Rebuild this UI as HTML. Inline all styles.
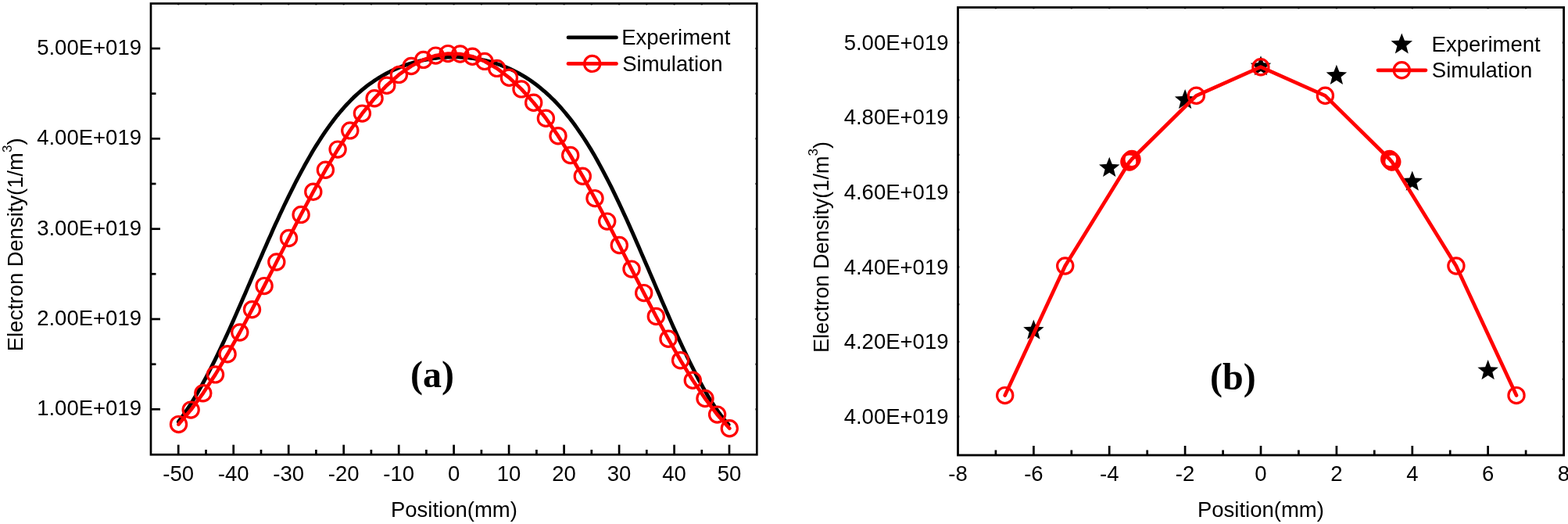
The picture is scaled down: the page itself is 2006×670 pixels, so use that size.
<!DOCTYPE html>
<html><head><meta charset="utf-8"><title>Electron Density</title>
<style>html,body{margin:0;padding:0;background:#fff;overflow:hidden}svg{display:block}</style>
</head><body>
<svg width="2006" height="670" viewBox="0 0 2006 670">
<rect width="2006" height="670" fill="#fff"/>
<g fill="none" stroke="#000" stroke-width="2.7">
<rect x="193.0" y="4.5" width="775.3" height="576.8"/>
<line x1="193.0" y1="62.0" x2="205.0" y2="62.0"/>
<line x1="193.0" y1="177.3" x2="205.0" y2="177.3"/>
<line x1="193.0" y1="292.7" x2="205.0" y2="292.7"/>
<line x1="193.0" y1="408.0" x2="205.0" y2="408.0"/>
<line x1="193.0" y1="523.3" x2="205.0" y2="523.3"/>
<line x1="193.0" y1="119.7" x2="199.5" y2="119.7"/>
<line x1="193.0" y1="235.0" x2="199.5" y2="235.0"/>
<line x1="193.0" y1="350.3" x2="199.5" y2="350.3"/>
<line x1="193.0" y1="465.7" x2="199.5" y2="465.7"/>
<line x1="228.2" y1="581.3" x2="228.2" y2="568.6999999999999"/>
<line x1="298.7" y1="581.3" x2="298.7" y2="568.6999999999999"/>
<line x1="369.2" y1="581.3" x2="369.2" y2="568.6999999999999"/>
<line x1="439.7" y1="581.3" x2="439.7" y2="568.6999999999999"/>
<line x1="510.2" y1="581.3" x2="510.2" y2="568.6999999999999"/>
<line x1="580.6" y1="581.3" x2="580.6" y2="568.6999999999999"/>
<line x1="651.1" y1="581.3" x2="651.1" y2="568.6999999999999"/>
<line x1="721.6" y1="581.3" x2="721.6" y2="568.6999999999999"/>
<line x1="792.1" y1="581.3" x2="792.1" y2="568.6999999999999"/>
<line x1="862.6" y1="581.3" x2="862.6" y2="568.6999999999999"/>
<line x1="933.0" y1="581.3" x2="933.0" y2="568.6999999999999"/>
<line x1="263.5" y1="581.3" x2="263.5" y2="575.0"/>
<line x1="334.0" y1="581.3" x2="334.0" y2="575.0"/>
<line x1="404.4" y1="581.3" x2="404.4" y2="575.0"/>
<line x1="474.9" y1="581.3" x2="474.9" y2="575.0"/>
<line x1="545.4" y1="581.3" x2="545.4" y2="575.0"/>
<line x1="615.9" y1="581.3" x2="615.9" y2="575.0"/>
<line x1="686.4" y1="581.3" x2="686.4" y2="575.0"/>
<line x1="756.8" y1="581.3" x2="756.8" y2="575.0"/>
<line x1="827.3" y1="581.3" x2="827.3" y2="575.0"/>
<line x1="897.8" y1="581.3" x2="897.8" y2="575.0"/>
<line x1="228.2" y1="4.5" x2="228.2" y2="6.3" stroke-width="2.2"/>
<line x1="263.5" y1="4.5" x2="263.5" y2="6.3" stroke-width="2.2"/>
<line x1="298.7" y1="4.5" x2="298.7" y2="6.3" stroke-width="2.2"/>
<line x1="334.0" y1="4.5" x2="334.0" y2="6.3" stroke-width="2.2"/>
<line x1="369.2" y1="4.5" x2="369.2" y2="6.3" stroke-width="2.2"/>
<line x1="404.4" y1="4.5" x2="404.4" y2="6.3" stroke-width="2.2"/>
<line x1="439.7" y1="4.5" x2="439.7" y2="6.3" stroke-width="2.2"/>
<line x1="474.9" y1="4.5" x2="474.9" y2="6.3" stroke-width="2.2"/>
<line x1="510.2" y1="4.5" x2="510.2" y2="6.3" stroke-width="2.2"/>
<line x1="545.4" y1="4.5" x2="545.4" y2="6.3" stroke-width="2.2"/>
<line x1="580.6" y1="4.5" x2="580.6" y2="6.3" stroke-width="2.2"/>
<line x1="615.9" y1="4.5" x2="615.9" y2="6.3" stroke-width="2.2"/>
<line x1="651.1" y1="4.5" x2="651.1" y2="6.3" stroke-width="2.2"/>
<line x1="686.4" y1="4.5" x2="686.4" y2="6.3" stroke-width="2.2"/>
<line x1="721.6" y1="4.5" x2="721.6" y2="6.3" stroke-width="2.2"/>
<line x1="756.8" y1="4.5" x2="756.8" y2="6.3" stroke-width="2.2"/>
<line x1="792.1" y1="4.5" x2="792.1" y2="6.3" stroke-width="2.2"/>
<line x1="827.3" y1="4.5" x2="827.3" y2="6.3" stroke-width="2.2"/>
<line x1="862.6" y1="4.5" x2="862.6" y2="6.3" stroke-width="2.2"/>
<line x1="897.8" y1="4.5" x2="897.8" y2="6.3" stroke-width="2.2"/>
<line x1="933.0" y1="4.5" x2="933.0" y2="6.3" stroke-width="2.2"/>
<line x1="968.3" y1="62.0" x2="966.5" y2="62.0" stroke-width="2.2"/>
<line x1="968.3" y1="119.7" x2="966.5" y2="119.7" stroke-width="2.2"/>
<line x1="968.3" y1="177.3" x2="966.5" y2="177.3" stroke-width="2.2"/>
<line x1="968.3" y1="235.0" x2="966.5" y2="235.0" stroke-width="2.2"/>
<line x1="968.3" y1="292.7" x2="966.5" y2="292.7" stroke-width="2.2"/>
<line x1="968.3" y1="350.3" x2="966.5" y2="350.3" stroke-width="2.2"/>
<line x1="968.3" y1="408.0" x2="966.5" y2="408.0" stroke-width="2.2"/>
<line x1="968.3" y1="465.7" x2="966.5" y2="465.7" stroke-width="2.2"/>
<line x1="968.3" y1="523.3" x2="966.5" y2="523.3" stroke-width="2.2"/>
</g>
<path d="M228.4,539.3 L231.3,535.3 L234.3,531.2 L237.2,526.9 L240.2,522.5 L243.1,518.0 L246.1,513.3 L249.0,508.5 L252.0,503.5 L254.9,498.4 L257.8,493.2 L260.8,487.8 L263.7,482.3 L266.7,476.7 L269.6,471.0 L272.6,465.2 L275.5,459.3 L278.4,453.2 L281.4,447.1 L284.3,440.9 L287.3,434.5 L290.2,428.2 L293.2,421.7 L296.1,415.2 L299.1,408.6 L302.0,401.9 L304.9,395.2 L307.9,388.5 L310.8,381.7 L313.8,374.9 L316.7,368.1 L319.7,361.3 L322.6,354.5 L325.5,347.7 L328.5,340.9 L331.4,334.1 L334.4,327.4 L337.3,320.6 L340.3,313.9 L343.2,307.3 L346.2,300.7 L349.1,294.1 L352.0,287.6 L355.0,281.2 L357.9,274.8 L360.9,268.5 L363.8,262.3 L366.8,256.2 L369.7,250.1 L372.7,244.2 L375.6,238.3 L378.5,232.5 L381.5,226.9 L384.4,221.3 L387.4,215.8 L390.3,210.5 L393.3,205.2 L396.2,200.1 L399.1,195.1 L402.1,190.1 L405.0,185.4 L408.0,180.7 L410.9,176.1 L413.9,171.7 L416.8,167.4 L419.8,163.2 L422.7,159.1 L425.6,155.2 L428.6,151.3 L431.5,147.6 L434.5,144.0 L437.4,140.6 L440.4,137.2 L443.3,134.0 L446.3,130.9 L449.2,127.8 L452.1,124.9 L455.1,122.1 L458.0,119.5 L461.0,116.9 L463.9,114.4 L466.9,112.0 L469.8,109.7 L472.7,107.5 L475.7,105.4 L478.6,103.4 L481.6,101.5 L484.5,99.6 L487.5,97.8 L490.4,96.1 L493.4,94.5 L496.3,92.9 L499.2,91.5 L502.2,90.0 L505.1,88.7 L508.1,87.4 L511.0,86.2 L514.0,85.0 L516.9,83.9 L519.8,82.9 L522.8,81.9 L525.7,81.0 L528.7,80.1 L531.6,79.3 L534.6,78.6 L537.5,77.8 L540.5,77.2 L543.4,76.6 L546.3,76.0 L549.3,75.5 L552.2,75.0 L555.2,74.6 L558.1,74.2 L561.1,73.9 L564.0,73.6 L567.0,73.4 L569.9,73.2 L572.8,73.1 L575.8,73.0 L578.7,72.9 L581.7,72.9 L584.6,72.9 L587.6,73.0 L590.5,73.2 L593.4,73.3 L596.4,73.6 L599.3,73.8 L602.3,74.2 L605.2,74.5 L608.2,75.0 L611.1,75.4 L614.1,76.0 L617.0,76.6 L619.9,77.2 L622.9,77.9 L625.8,78.6 L628.8,79.4 L631.7,80.3 L634.7,81.2 L637.6,82.2 L640.6,83.2 L643.5,84.4 L646.4,85.5 L649.4,86.8 L652.3,88.1 L655.3,89.4 L658.2,90.9 L661.2,92.4 L664.1,94.0 L667.0,95.6 L670.0,97.4 L672.9,99.2 L675.9,101.1 L678.8,103.1 L681.8,105.1 L684.7,107.3 L687.7,109.5 L690.6,111.8 L693.5,114.3 L696.5,116.8 L699.4,119.4 L702.4,122.1 L705.3,124.9 L708.3,127.8 L711.2,130.8 L714.1,133.9 L717.1,137.2 L720.0,140.5 L723.0,144.0 L725.9,147.6 L728.9,151.3 L731.8,155.1 L734.8,159.0 L737.7,163.1 L740.6,167.3 L743.6,171.6 L746.5,176.0 L749.5,180.6 L752.4,185.3 L755.4,190.1 L758.3,195.1 L761.3,200.1 L764.2,205.3 L767.1,210.6 L770.1,216.1 L773.0,221.6 L776.0,227.3 L778.9,233.0 L781.9,238.9 L784.8,244.9 L787.7,250.9 L790.7,257.1 L793.6,263.3 L796.6,269.7 L799.5,276.1 L802.5,282.5 L805.4,289.1 L808.4,295.7 L811.3,302.3 L814.2,309.0 L817.2,315.8 L820.1,322.6 L823.1,329.4 L826.0,336.2 L829.0,343.1 L831.9,349.9 L834.9,356.8 L837.8,363.6 L840.7,370.5 L843.7,377.3 L846.6,384.2 L849.6,391.0 L852.5,397.7 L855.5,404.4 L858.4,411.1 L861.3,417.7 L864.3,424.3 L867.2,430.8 L870.2,437.2 L873.1,443.5 L876.1,449.8 L879.0,455.9 L882.0,462.0 L884.9,467.9 L887.8,473.7 L890.8,479.4 L893.7,485.0 L896.7,490.4 L899.6,495.7 L902.6,500.9 L905.5,505.9 L908.4,510.7 L911.4,515.4 L914.3,519.9 L917.3,524.2 L920.2,528.3 L923.2,532.3 L926.1,536.0 L929.1,539.6 L932.0,542.9" fill="none" stroke="#000" stroke-width="4.9" stroke-linejoin="round" stroke-linecap="round"/>
<path d="M228.5,542.6 L244.2,524.1 L259.8,502.8 L275.5,478.9 L291.1,452.8 L306.8,425.0 L322.5,395.7 L338.1,365.6 L353.8,335.0 L369.5,304.5 L385.1,274.4 L400.8,245.2 L416.4,217.3 L432.1,191.1 L447.8,166.9 L463.4,145.1 L479.1,125.8 L494.8,109.2 L510.4,95.4 L526.1,84.5 L541.7,76.4 L557.4,71.1 L573.1,68.6 L588.7,69.0 L604.4,72.3 L620.0,78.4 L635.7,87.4 L651.4,99.3 L667.0,113.9 L682.7,131.3 L698.4,151.3 L714.0,173.7 L729.7,198.5 L745.3,225.2 L761.0,253.6 L776.7,283.1 L792.3,313.5 L808.0,344.1 L823.7,374.6 L839.3,404.5 L855.0,433.3 L870.6,460.7 L886.3,486.2 L902.0,509.5 L917.6,530.1 L933.3,547.7" fill="none" stroke="#f00" stroke-width="4.7" stroke-linejoin="round" stroke-linecap="round"/>
<g fill="none" stroke="#f00" stroke-width="3.2">
<circle cx="228.5" cy="542.6" r="10.1"/>
<circle cx="244.2" cy="524.1" r="10.1"/>
<circle cx="259.8" cy="502.8" r="10.1"/>
<circle cx="275.5" cy="478.9" r="10.1"/>
<circle cx="291.1" cy="452.8" r="10.1"/>
<circle cx="306.8" cy="425.0" r="10.1"/>
<circle cx="322.5" cy="395.7" r="10.1"/>
<circle cx="338.1" cy="365.6" r="10.1"/>
<circle cx="353.8" cy="335.0" r="10.1"/>
<circle cx="369.5" cy="304.5" r="10.1"/>
<circle cx="385.1" cy="274.4" r="10.1"/>
<circle cx="400.8" cy="245.2" r="10.1"/>
<circle cx="416.4" cy="217.3" r="10.1"/>
<circle cx="432.1" cy="191.1" r="10.1"/>
<circle cx="447.8" cy="166.9" r="10.1"/>
<circle cx="463.4" cy="145.1" r="10.1"/>
<circle cx="479.1" cy="125.8" r="10.1"/>
<circle cx="494.8" cy="109.2" r="10.1"/>
<circle cx="510.4" cy="95.4" r="10.1"/>
<circle cx="526.1" cy="84.5" r="10.1"/>
<circle cx="541.7" cy="76.4" r="10.1"/>
<circle cx="557.4" cy="71.1" r="10.1"/>
<circle cx="573.1" cy="68.6" r="10.1"/>
<circle cx="588.7" cy="69.0" r="10.1"/>
<circle cx="604.4" cy="72.3" r="10.1"/>
<circle cx="620.0" cy="78.4" r="10.1"/>
<circle cx="635.7" cy="87.4" r="10.1"/>
<circle cx="651.4" cy="99.3" r="10.1"/>
<circle cx="667.0" cy="113.9" r="10.1"/>
<circle cx="682.7" cy="131.3" r="10.1"/>
<circle cx="698.4" cy="151.3" r="10.1"/>
<circle cx="714.0" cy="173.7" r="10.1"/>
<circle cx="729.7" cy="198.5" r="10.1"/>
<circle cx="745.3" cy="225.2" r="10.1"/>
<circle cx="761.0" cy="253.6" r="10.1"/>
<circle cx="776.7" cy="283.1" r="10.1"/>
<circle cx="792.3" cy="313.5" r="10.1"/>
<circle cx="808.0" cy="344.1" r="10.1"/>
<circle cx="823.7" cy="374.6" r="10.1"/>
<circle cx="839.3" cy="404.5" r="10.1"/>
<circle cx="855.0" cy="433.3" r="10.1"/>
<circle cx="870.6" cy="460.7" r="10.1"/>
<circle cx="886.3" cy="486.2" r="10.1"/>
<circle cx="902.0" cy="509.5" r="10.1"/>
<circle cx="917.6" cy="530.1" r="10.1"/>
<circle cx="933.3" cy="547.7" r="10.1"/>
</g>
<g font-family="Liberation Sans, Arial, sans-serif" font-size="27.5" fill="#000">
<text x="181" y="69.8" text-anchor="end">5.00E+019</text>
<text x="181" y="185.1" text-anchor="end">4.00E+019</text>
<text x="181" y="300.5" text-anchor="end">3.00E+019</text>
<text x="181" y="415.8" text-anchor="end">2.00E+019</text>
<text x="181" y="531.1" text-anchor="end">1.00E+019</text>
<text x="228.2" y="614.8" text-anchor="middle">-50</text>
<text x="298.7" y="614.8" text-anchor="middle">-40</text>
<text x="369.2" y="614.8" text-anchor="middle">-30</text>
<text x="439.7" y="614.8" text-anchor="middle">-20</text>
<text x="510.2" y="614.8" text-anchor="middle">-10</text>
<text x="580.6" y="614.8" text-anchor="middle">0</text>
<text x="651.1" y="614.8" text-anchor="middle">10</text>
<text x="721.6" y="614.8" text-anchor="middle">20</text>
<text x="792.1" y="614.8" text-anchor="middle">30</text>
<text x="862.6" y="614.8" text-anchor="middle">40</text>
<text x="933.0" y="614.8" text-anchor="middle">50</text>
<text x="580.9" y="660.9" text-anchor="middle">Position(mm)</text>
<text x="795.2" y="56.5">Experiment</text>
<text x="796.2" y="90.5">Simulation</text>
</g>
<line x1="727" y1="47.9" x2="788.5" y2="47.9" stroke="#000" stroke-width="4.7" stroke-linecap="round"/>
<line x1="727" y1="81.4" x2="788.5" y2="81.4" stroke="#f00" stroke-width="4.7" stroke-linecap="round"/>
<circle cx="757.7" cy="81.4" r="10.1" fill="none" stroke="#f00" stroke-width="3.2"/>
<text transform="translate(29.1,312.9) rotate(-90)" font-family="Liberation Sans, Arial, sans-serif" font-size="27.4" text-anchor="middle">Electron Density(1/m<tspan font-size="17" dy="-14.5">3</tspan><tspan dy="14.5">)</tspan></text>
<text x="552.9" y="494.8" font-family="Liberation Serif, Times New Roman, serif" font-weight="bold" font-size="48" text-anchor="middle">(a)</text>
<rect x="1225.5" y="9.5" width="775.1" height="572.5" fill="none" stroke="#000" stroke-width="2.8"/>
<g stroke="#000" stroke-width="2.7">
<line x1="1322.4" y1="582.0" x2="1322.4" y2="570.0"/>
<line x1="1419.2" y1="582.0" x2="1419.2" y2="570.0"/>
<line x1="1516.1" y1="582.0" x2="1516.1" y2="570.0"/>
<line x1="1613.0" y1="582.0" x2="1613.0" y2="570.0"/>
<line x1="1709.9" y1="582.0" x2="1709.9" y2="570.0"/>
<line x1="1806.8" y1="582.0" x2="1806.8" y2="570.0"/>
<line x1="1903.6" y1="582.0" x2="1903.6" y2="570.0"/>
<line x1="1273.9" y1="582.0" x2="1273.9" y2="575.5"/>
<line x1="1370.8" y1="582.0" x2="1370.8" y2="575.5"/>
<line x1="1467.7" y1="582.0" x2="1467.7" y2="575.5"/>
<line x1="1564.6" y1="582.0" x2="1564.6" y2="575.5"/>
<line x1="1661.4" y1="582.0" x2="1661.4" y2="575.5"/>
<line x1="1758.3" y1="582.0" x2="1758.3" y2="575.5"/>
<line x1="1855.2" y1="582.0" x2="1855.2" y2="575.5"/>
<line x1="1952.1" y1="582.0" x2="1952.1" y2="575.5"/>
<line x1="1273.9" y1="9.5" x2="1273.9" y2="11.3" stroke-width="2.2"/>
<line x1="1322.4" y1="9.5" x2="1322.4" y2="11.3" stroke-width="2.2"/>
<line x1="1370.8" y1="9.5" x2="1370.8" y2="11.3" stroke-width="2.2"/>
<line x1="1419.2" y1="9.5" x2="1419.2" y2="11.3" stroke-width="2.2"/>
<line x1="1467.7" y1="9.5" x2="1467.7" y2="11.3" stroke-width="2.2"/>
<line x1="1516.1" y1="9.5" x2="1516.1" y2="11.3" stroke-width="2.2"/>
<line x1="1564.6" y1="9.5" x2="1564.6" y2="11.3" stroke-width="2.2"/>
<line x1="1613.0" y1="9.5" x2="1613.0" y2="11.3" stroke-width="2.2"/>
<line x1="1661.4" y1="9.5" x2="1661.4" y2="11.3" stroke-width="2.2"/>
<line x1="1709.9" y1="9.5" x2="1709.9" y2="11.3" stroke-width="2.2"/>
<line x1="1758.3" y1="9.5" x2="1758.3" y2="11.3" stroke-width="2.2"/>
<line x1="1806.8" y1="9.5" x2="1806.8" y2="11.3" stroke-width="2.2"/>
<line x1="1855.2" y1="9.5" x2="1855.2" y2="11.3" stroke-width="2.2"/>
<line x1="1903.6" y1="9.5" x2="1903.6" y2="11.3" stroke-width="2.2"/>
<line x1="1952.1" y1="9.5" x2="1952.1" y2="11.3" stroke-width="2.2"/>
<line x1="1225.5" y1="54.5" x2="1227.3" y2="54.5" stroke-width="2.2"/>
<line x1="2000.6" y1="54.5" x2="1998.8" y2="54.5" stroke-width="2.2"/>
<line x1="1225.5" y1="102.3" x2="1227.3" y2="102.3" stroke-width="2.2"/>
<line x1="2000.6" y1="102.3" x2="1998.8" y2="102.3" stroke-width="2.2"/>
<line x1="1225.5" y1="150.1" x2="1227.3" y2="150.1" stroke-width="2.2"/>
<line x1="2000.6" y1="150.1" x2="1998.8" y2="150.1" stroke-width="2.2"/>
<line x1="1225.5" y1="197.9" x2="1227.3" y2="197.9" stroke-width="2.2"/>
<line x1="2000.6" y1="197.9" x2="1998.8" y2="197.9" stroke-width="2.2"/>
<line x1="1225.5" y1="245.7" x2="1227.3" y2="245.7" stroke-width="2.2"/>
<line x1="2000.6" y1="245.7" x2="1998.8" y2="245.7" stroke-width="2.2"/>
<line x1="1225.5" y1="293.6" x2="1227.3" y2="293.6" stroke-width="2.2"/>
<line x1="2000.6" y1="293.6" x2="1998.8" y2="293.6" stroke-width="2.2"/>
<line x1="1225.5" y1="341.4" x2="1227.3" y2="341.4" stroke-width="2.2"/>
<line x1="2000.6" y1="341.4" x2="1998.8" y2="341.4" stroke-width="2.2"/>
<line x1="1225.5" y1="389.2" x2="1227.3" y2="389.2" stroke-width="2.2"/>
<line x1="2000.6" y1="389.2" x2="1998.8" y2="389.2" stroke-width="2.2"/>
<line x1="1225.5" y1="437.0" x2="1227.3" y2="437.0" stroke-width="2.2"/>
<line x1="2000.6" y1="437.0" x2="1998.8" y2="437.0" stroke-width="2.2"/>
<line x1="1225.5" y1="484.8" x2="1227.3" y2="484.8" stroke-width="2.2"/>
<line x1="2000.6" y1="484.8" x2="1998.8" y2="484.8" stroke-width="2.2"/>
<line x1="1225.5" y1="532.6" x2="1227.3" y2="532.6" stroke-width="2.2"/>
<line x1="2000.6" y1="532.6" x2="1998.8" y2="532.6" stroke-width="2.2"/>
</g>
<polygon points="1322.36,408.70 1325.87,417.76 1335.58,418.30 1328.04,424.45 1330.53,433.85 1322.36,428.58 1314.19,433.85 1316.68,424.45 1309.14,418.30 1318.85,417.76" fill="#000"/>
<polygon points="1419.24,200.80 1422.75,209.86 1432.46,210.40 1424.92,216.55 1427.41,225.95 1419.24,220.68 1411.07,225.95 1413.56,216.55 1406.02,210.40 1415.73,209.86" fill="#000"/>
<polygon points="1516.12,113.90 1519.63,122.96 1529.34,123.50 1521.80,129.65 1524.29,139.05 1516.12,133.78 1507.95,139.05 1510.44,129.65 1502.90,123.50 1512.61,122.96" fill="#000"/>
<polygon points="1613.00,71.20 1616.51,80.26 1626.22,80.80 1618.68,86.95 1621.17,96.35 1613.00,91.08 1604.83,96.35 1607.32,86.95 1599.78,80.80 1609.49,80.26" fill="#000"/>
<polygon points="1709.88,82.80 1713.39,91.86 1723.10,92.40 1715.56,98.55 1718.05,107.95 1709.88,102.68 1701.71,107.95 1704.20,98.55 1696.66,92.40 1706.37,91.86" fill="#000"/>
<polygon points="1806.76,218.50 1810.27,227.56 1819.98,228.10 1812.44,234.25 1814.93,243.65 1806.76,238.38 1798.59,243.65 1801.08,234.25 1793.54,228.10 1803.25,227.56" fill="#000"/>
<polygon points="1903.64,460.10 1907.15,469.16 1916.86,469.70 1909.32,475.85 1911.81,485.25 1903.64,479.98 1895.47,485.25 1897.96,475.85 1890.42,469.70 1900.13,469.16" fill="#000"/>
<path d="M1285.7,505.6 L1362.7,340.0 L1444.9,207.1 L1448.0,203.5 L1530.4,122.3 L1612.9,85.7 L1695.4,122.3 L1777.7,203.5 L1780.8,207.1 L1862.9,340.0 L1940.0,505.6" fill="none" stroke="#f00" stroke-width="4.7" stroke-linejoin="round" stroke-linecap="round"/>
<g fill="none" stroke="#f00" stroke-width="3.2">
<circle cx="1285.7" cy="505.6" r="10.1"/>
<circle cx="1362.7" cy="340.0" r="10.1"/>
<circle cx="1444.9" cy="207.1" r="10.1"/>
<circle cx="1448.0" cy="203.5" r="10.1"/>
<circle cx="1530.4" cy="122.3" r="10.1"/>
<circle cx="1612.9" cy="85.7" r="10.1"/>
<circle cx="1695.4" cy="122.3" r="10.1"/>
<circle cx="1777.7" cy="203.5" r="10.1"/>
<circle cx="1780.8" cy="207.1" r="10.1"/>
<circle cx="1862.9" cy="340.0" r="10.1"/>
<circle cx="1940.0" cy="505.6" r="10.1"/>
<circle cx="1446.45" cy="205.30" r="10.1" stroke-width="3.8"/>
<circle cx="1779.25" cy="205.30" r="10.1" stroke-width="3.8"/>
</g>
<g font-family="Liberation Sans, Arial, sans-serif" font-size="27.5" fill="#000">
<text x="1213.5" y="63.8" text-anchor="end">5.00E+019</text>
<text x="1213.5" y="159.4" text-anchor="end">4.80E+019</text>
<text x="1213.5" y="255.0" text-anchor="end">4.60E+019</text>
<text x="1213.5" y="350.7" text-anchor="end">4.40E+019</text>
<text x="1213.5" y="446.3" text-anchor="end">4.20E+019</text>
<text x="1213.5" y="541.9" text-anchor="end">4.00E+019</text>
<text x="1225.5" y="614.8" text-anchor="middle">-8</text>
<text x="1322.4" y="614.8" text-anchor="middle">-6</text>
<text x="1419.2" y="614.8" text-anchor="middle">-4</text>
<text x="1516.1" y="614.8" text-anchor="middle">-2</text>
<text x="1613.0" y="614.8" text-anchor="middle">0</text>
<text x="1709.9" y="614.8" text-anchor="middle">2</text>
<text x="1806.8" y="614.8" text-anchor="middle">4</text>
<text x="1903.6" y="614.8" text-anchor="middle">6</text>
<text x="2000.5" y="614.8" text-anchor="middle">8</text>
<text x="1612.9" y="660.9" text-anchor="middle">Position(mm)</text>
<text x="1831.6" y="66">Experiment</text>
<text x="1831.8" y="98.8">Simulation</text>
</g>
<polygon points="1793.30,42.40 1796.94,51.79 1807.00,52.35 1799.19,58.71 1801.76,68.45 1793.30,62.99 1784.84,68.45 1787.41,58.71 1779.60,52.35 1789.66,51.79" fill="#000"/>
<line x1="1763" y1="89.8" x2="1824" y2="89.8" stroke="#f00" stroke-width="4.7" stroke-linecap="round"/>
<circle cx="1793.3" cy="89.8" r="10.1" fill="none" stroke="#f00" stroke-width="3.2"/>
<text transform="translate(1060,316) rotate(-90)" font-family="Liberation Sans, Arial, sans-serif" font-size="27.1" text-anchor="middle">Electron Density(1/m<tspan font-size="17" dy="-14.5">3</tspan><tspan dy="14.5">)</tspan></text>
<text x="1577.4" y="498.3" font-family="Liberation Serif, Times New Roman, serif" font-weight="bold" font-size="48" text-anchor="middle">(b)</text>
</svg>
</body></html>
